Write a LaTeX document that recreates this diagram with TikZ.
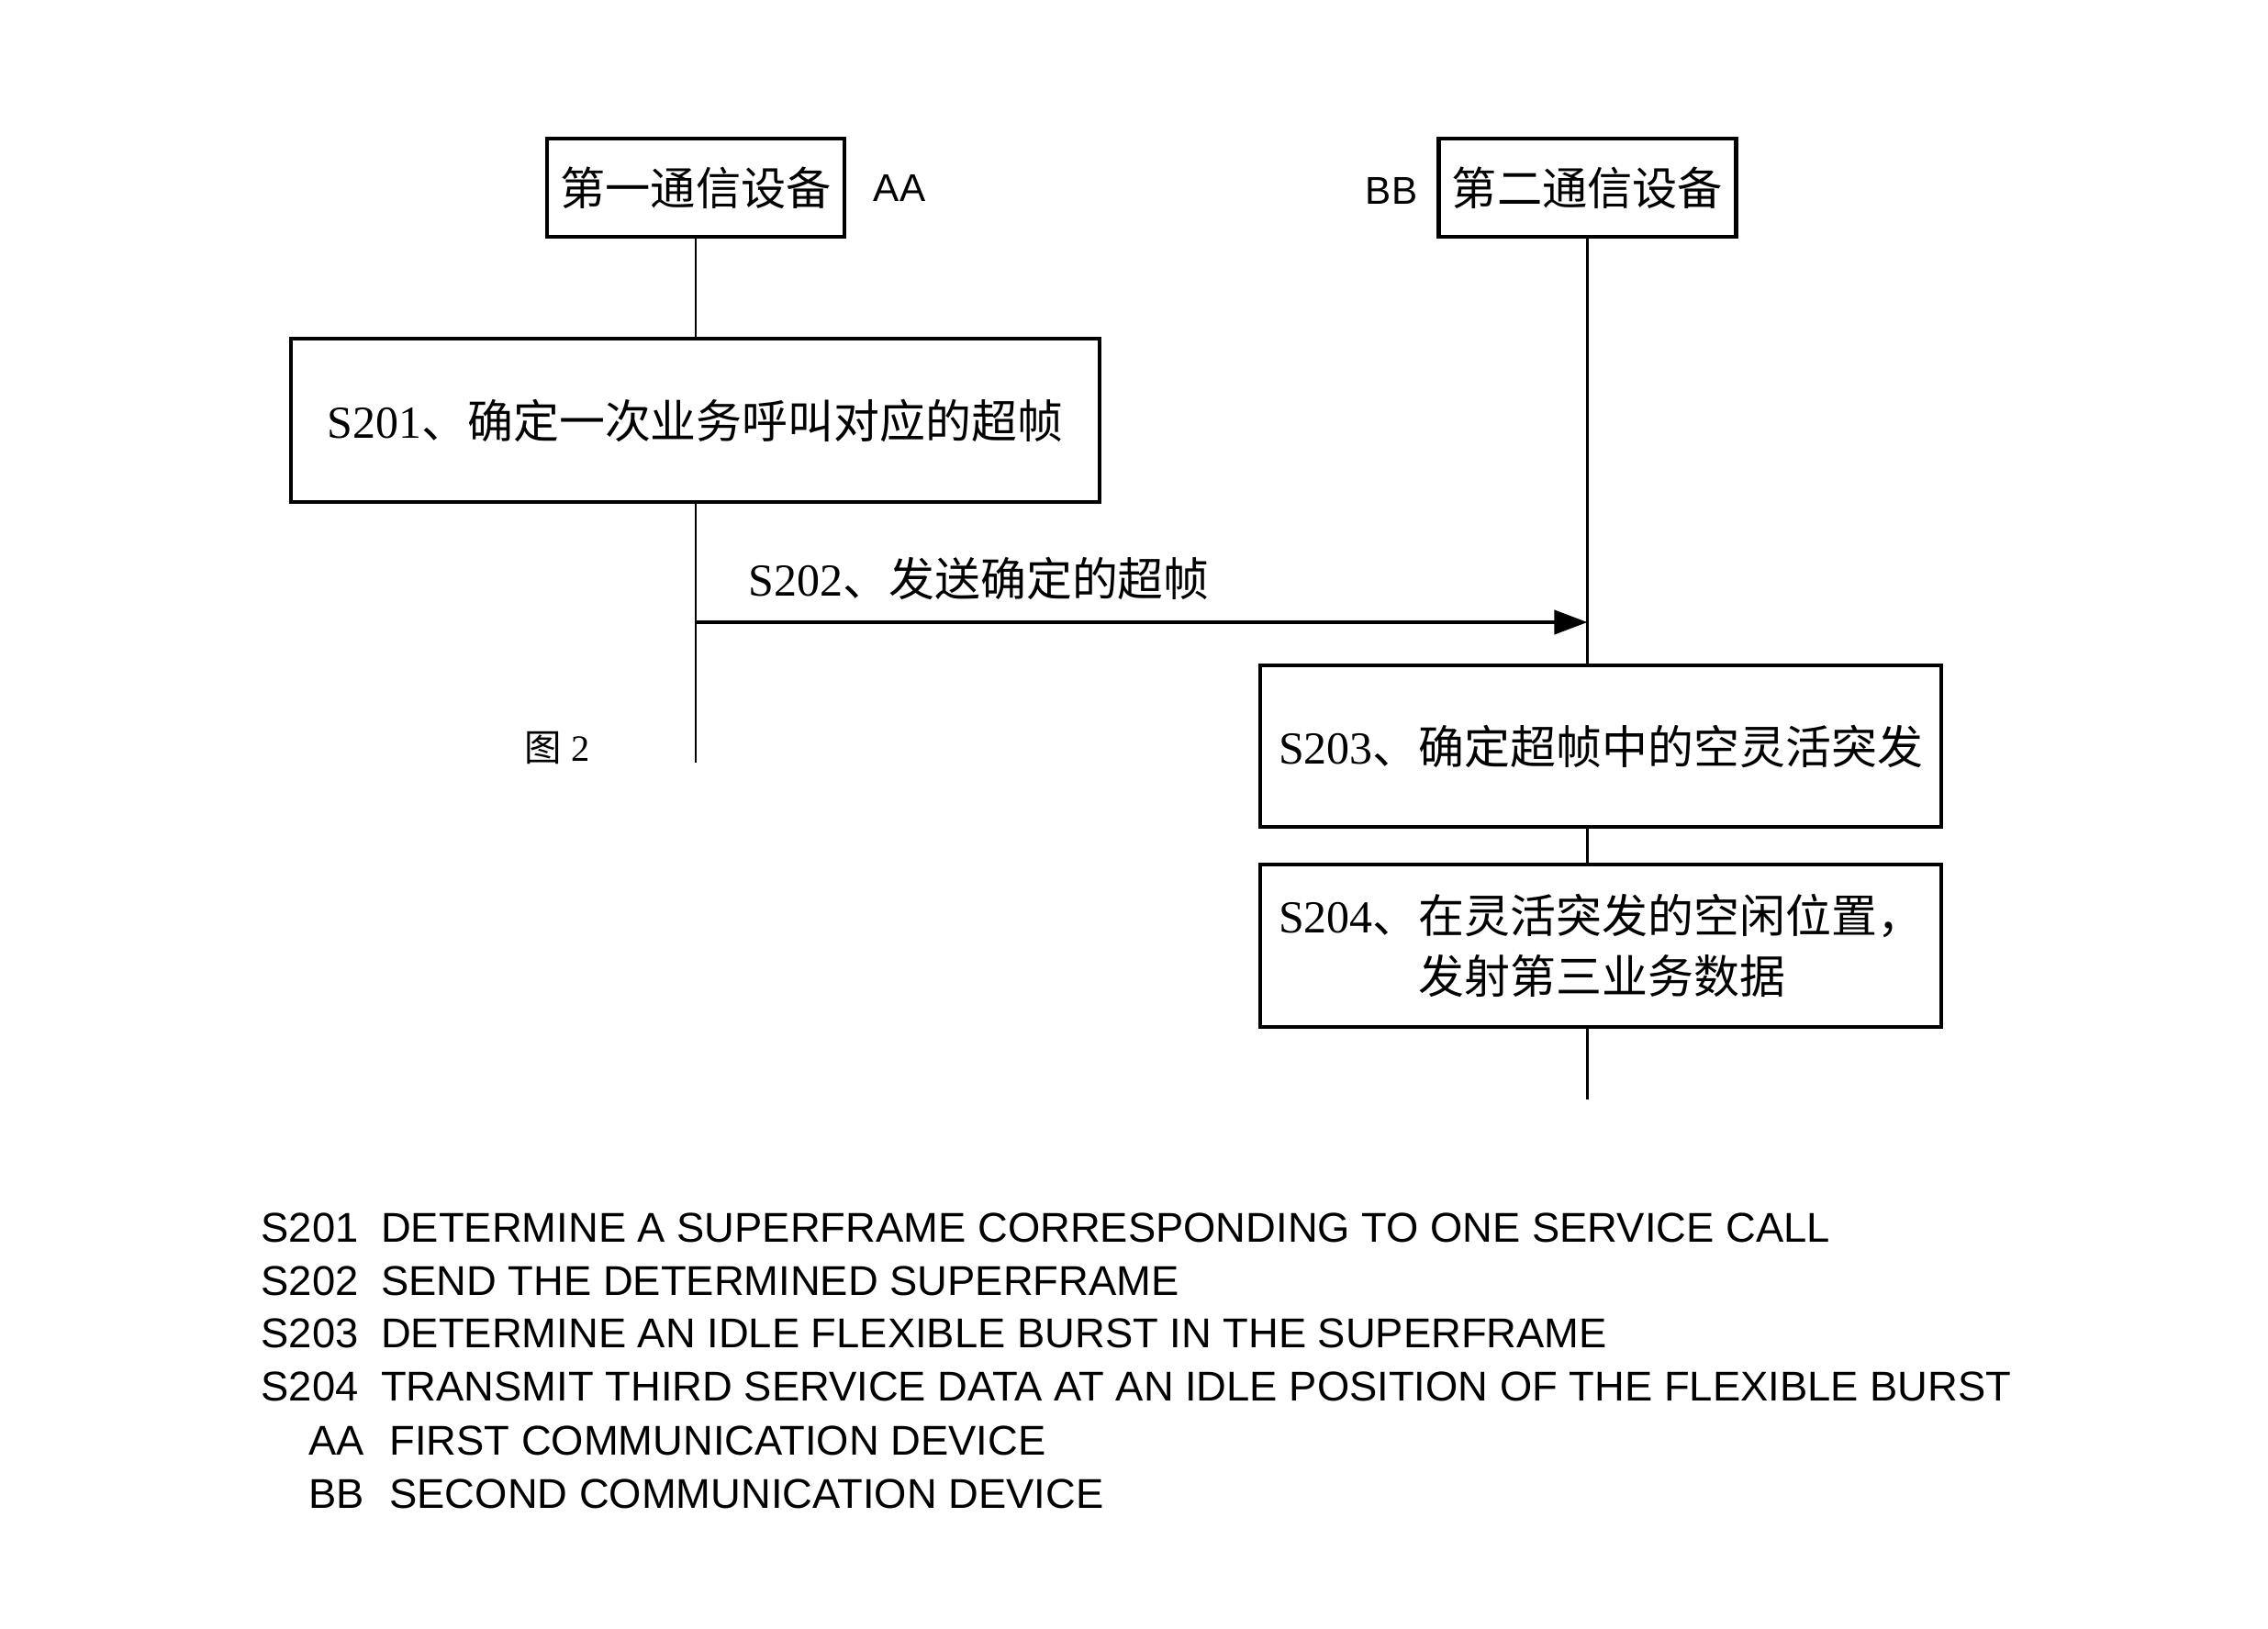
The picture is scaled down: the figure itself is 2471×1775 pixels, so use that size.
\documentclass[tikz,border=0pt]{standalone}
\usepackage{fontspec}
\setmainfont{Liberation Serif}
\newfontfamily\cjk{Noto Sans CJK SC}
\newfontfamily\lsans{Liberation Sans}
\usetikzlibrary{arrows.meta}
\begin{document}
\begin{tikzpicture}[x=0.01cm,y=-0.01cm,
  hdr/.style={draw,line width=1.2pt,inner sep=0pt,minimum width=3.24cm,minimum height=1.07cm,font=\fontsize{14}{17}\selectfont\cjk},
  stepbox/.style={draw,line width=1.2pt,inner sep=0pt,font=\fontsize{14.2}{17}\selectfont},
  life/.style={line width=0.8pt},
  msg/.style={line width=1.1pt,-{Triangle[length=0.36cm,width=0.26cm]}},
  tag/.style={font=\fontsize{12}{14}\selectfont\lsans,inner sep=0pt},
  legend/.style={font=\fontsize{12.9}{15}\selectfont\lsans,inner sep=0pt,anchor=base west}]
\useasboundingbox (0,0) rectangle (2471,1775);
\node[hdr] (box1) at (758,204.5) {第一通信设备};
\node[hdr] (box2) at (1729.5,204.5) {第二通信设备};
\node[tag] (aa) at (980,205) {AA};
\node[tag] (bb) at (1516,208) {BB};
\node[stepbox,minimum width=8.81cm,minimum height=1.78cm] (s201) at (757.5,458) {S201{\cjk 、确定一次业务呼叫对应的超帧}};
\node[stepbox,minimum width=7.42cm,minimum height=1.76cm] (s203) at (1744,813) {S203{\cjk 、确定超帧中的空灵活突发}};
\node[stepbox,minimum width=7.42cm,minimum height=1.77cm,align=left,font=\fontsize{14.2}{18.7}\selectfont] (s204) at (1744,1030.5) {S204{\cjk 、在灵活突发的空闲位置，}\\\hphantom{S204{\cjk 、}}{\cjk 发射第三业务数据}};
\node[anchor=west,inner sep=0pt,font=\fontsize{14.2}{17}\selectfont] (l202) at (815,630) {S202{\cjk 、发送确定的超帧}};
\node[inner sep=0pt,font=\fontsize{11.5}{14}\selectfont] (fig) at (607,815) {{\cjk 图} 2};
\coordinate (l1end) at (758,831);
\coordinate (l2end) at (1729.5,1198);
\coordinate (a1) at (758,678);
\draw[life] (box1.south) -- (box1.south |- s201.north);
\draw[life] (box1.south |- s201.south) -- (l1end);
\draw[msg] (a1) -- (a1 -| box2.south);
\draw[life] (box2.south) -- (box2.south |- s203.north);
\draw[life] (box2.south |- s203.south) -- (box2.south |- s204.north);
\draw[life] (box2.south |- s204.south) -- (l2end);
\node[legend] (k1) at (284,1353) {S201\hspace{0.54em}DETERMINE A SUPERFRAME CORRESPONDING TO ONE SERVICE CALL};
\node[legend] (k2) at (284,1411) {S202\hspace{0.54em}SEND THE DETERMINED SUPERFRAME};
\node[legend] (k3) at (284,1468) {S203\hspace{0.54em}DETERMINE AN IDLE FLEXIBLE BURST IN THE SUPERFRAME};
\node[legend] (k4) at (284,1526) {S204\hspace{0.54em}TRANSMIT THIRD SERVICE DATA AT AN IDLE POSITION OF THE FLEXIBLE BURST};
\node[legend] (k5) at (336,1585) {AA\hspace{0.6em}FIRST COMMUNICATION DEVICE};
\node[legend] (k6) at (336,1643) {BB\hspace{0.6em}SECOND COMMUNICATION DEVICE};
\end{tikzpicture}
\end{document}
